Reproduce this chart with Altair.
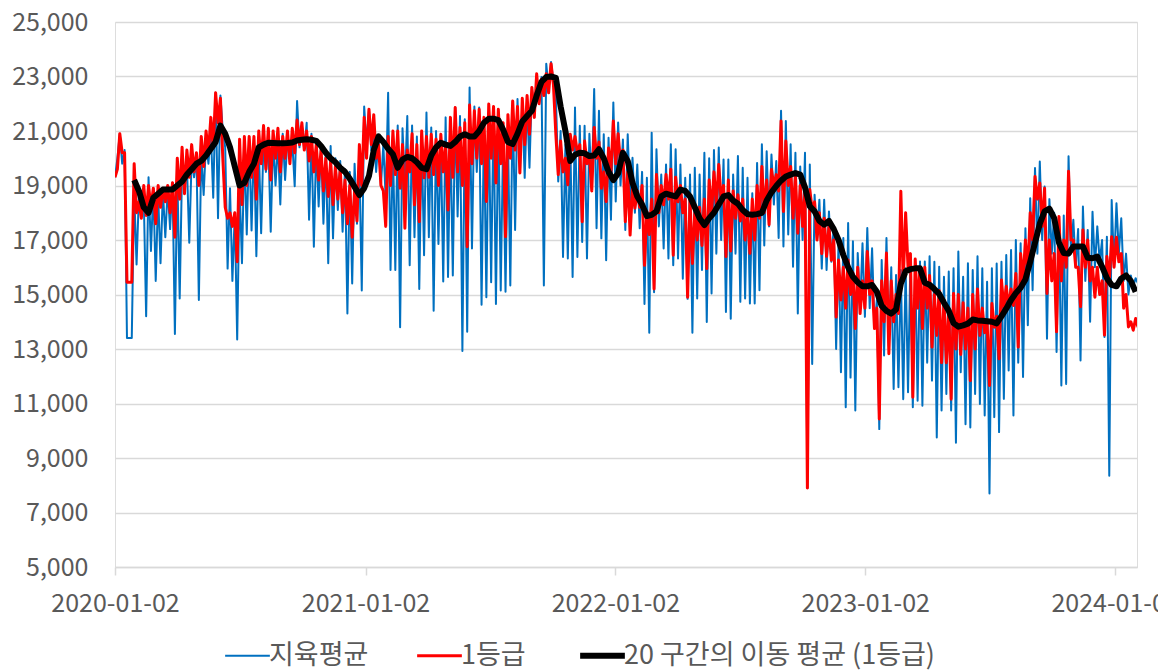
import altair as alt
import pandas as pd

# ---------------- data (weekly readings: a high and a low point per week) ----------------
first_day = "2020-01-02"
series_names = ["지육평균", "1등급", "20 구간의 이동 평균 (1등급)"]
y_ticks = [5000, 7000, 9000, 11000, 13000, 15000, 17000, 19000, 21000, 23000, 25000]
x_ticks = ["2020-01-02", "2021-01-02", "2022-01-02", "2023-01-02", "2024-01-02"]
x_domain = ["2020-01-02", "2024-02-03"]

blue_hi = [
    19300, 20900, 20300, 13400, 18800, 18700, 18600, 19300, 18900, 18700,
    18800, 18900, 19100, 19500, 19700, 19800, 20000, 20100, 20200, 20600,
    21000, 22400, 22300, 20400, 18900, 18000, 19000, 20400, 20700, 20700,
    20500, 20700, 20600, 20700, 20600, 20900, 20700, 20600, 22100, 21200,
    21300, 20900, 20600, 20500, 20300, 20450, 20000, 19900, 19600, 19500,
    19800, 19800, 21900, 21800, 21000, 20800, 20500, 22400, 20500, 21200,
    21100, 21550, 21200, 20800, 20900, 21680, 21130, 21000, 20700, 21500,
    21000, 21860, 21550, 21430, 22600, 21900, 21860, 21250, 21680, 21800,
    21620, 20750, 20940, 22100, 22170, 21930, 22100, 22600, 22850, 22980,
    23470, 23530, 22360, 21000, 20500, 20880, 21860, 21190, 21190, 20900,
    22540, 21740, 20880, 20750, 22050, 21310, 20690, 20880, 20020, 19770,
    19500, 19280, 20940, 20330, 19400, 19770, 20510, 20330, 19770, 19280,
    19400, 19650, 19400, 20200, 20000, 20300, 20390, 19950, 19950, 19400,
    20080, 19650, 19280, 18720, 19830, 20510, 20260, 20140, 19900, 21740,
    21370, 20510, 20200, 19700, 20200, 19770, 18660, 18480, 18480, 18050,
    17500, 16950, 17070, 17620, 16950, 16520, 16880, 17440, 16700, 14800,
    16270, 17070, 16000, 15720, 15900, 15960, 16270, 16090, 16210, 16210,
    16400, 16200, 16020, 15650, 15840, 15960, 16580, 15650, 16150, 15900,
    16400, 15960, 15470, 15960, 16140, 16200, 16450, 16630, 17000, 16880,
    17430, 18530, 19640, 19880, 18960, 18500, 18000, 17800, 17900, 20070,
    17740, 17400, 18230, 17370, 18040, 17500, 17000, 17120, 18470, 18350,
    17800, 16500, 15700, 15600,
]
blue_lo = [
    20000, 19800, 13400, 13400, 16100, 18200, 14200, 16600, 15500, 16150,
    17100, 17400, 13550, 14850, 18800, 16900, 19300, 14800, 18650, 19800,
    18550, 17800, 21000, 15950, 15500, 13350, 16150, 17200, 17350, 16400,
    17250, 19500, 17300, 19000, 18300, 19200, 20000, 18970, 20400, 20300,
    17740, 16750, 18230, 17600, 16150, 17060, 18100, 17300, 14300, 15400,
    17600, 15150, 20500, 20300, 19500, 19000, 18500, 15900, 15900, 13800,
    19000, 16070, 17100, 15200, 16440, 17100, 14400, 16850, 15480, 15640,
    15700, 17860, 12930, 13630, 16690, 19500, 14620, 14900, 15450, 14650,
    15150, 15100, 15330, 17370, 19460, 19280, 19650, 21500, 22000, 15330,
    22500, 22800, 19150, 16380, 16320, 15640, 16380, 16930, 16320, 18900,
    17430, 17060, 16260, 17740, 18410, 19000, 17370, 18400, 18000, 17430,
    14650, 13600, 15080, 17500, 16690, 16320, 16070, 16320, 15580, 14840,
    13600, 14850, 15900, 13990, 15040, 16500, 17000, 14360, 14110, 16500,
    14730, 14850, 14670, 14670, 15160, 16800, 17500, 18300, 17070, 16760,
    17200, 16020, 14300, 17000, 7900, 12450, 17000, 15950, 15900, 16200,
    13000, 12150, 10860, 11950, 10740, 14500, 14180, 14500, 13800, 10060,
    12760, 13100, 11530, 11600, 11160, 11410, 10860, 11100, 10920, 12500,
    11840, 9750, 10740, 11350, 10740, 9560, 12150, 10240, 10120, 11350,
    10980, 10560, 7700, 10500, 9950, 11170, 12210, 10560, 12500, 11970,
    13870, 15160, 16500, 17000, 13380, 16500, 12890, 11660, 11720, 16500,
    16000, 12580, 15500, 14000, 16000, 16200, 13440, 8350, 16000, 16500,
    15500, 15000, 15300, 15400,
]
red_hi = [
    19300, 20900, 20200, 15450, 19800, 18400, 19000, 19000, 18900, 19000,
    18900, 19000, 19100, 20000, 20400, 20300, 20500, 20200, 20800, 21000,
    21500, 22400, 22200, 18200, 18000, 18000, 20700, 20800, 20800, 20800,
    21000, 21200, 21100, 21000, 21100, 20800, 21000, 21100, 21400, 21300,
    21000, 20800, 20500, 20300, 20000, 19900, 19700, 19600, 19200, 19000,
    18800, 20500, 21500, 21800, 21600, 20500, 18800, 20800, 21000, 21000,
    20500, 20300, 20900, 20500, 21000, 20800, 20880, 20700, 20880, 20500,
    21500, 21860, 21130, 21300, 21950, 21740, 21800, 21500, 21990, 21900,
    21800, 21300, 21600, 22100, 21900, 22200, 22300, 22600, 23100, 22900,
    23100, 23470, 20880, 20630, 20000, 20880, 20800, 20500, 20630, 20140,
    21130, 20600, 19500, 20380, 21370, 20900, 20300, 19500, 18900, 18800,
    19000, 18040, 18500, 19400, 19000, 19400, 19600, 19300, 19000, 18500,
    18500, 18000, 18200, 18500, 19200, 19500, 19770, 19000, 19200, 18800,
    18660, 18500, 18000, 18500, 19000, 19700, 19200, 19590, 19400, 21370,
    20630, 19700, 19400, 19000, 18800, 18850, 18400, 18000, 17800, 17500,
    17000, 16270, 16000, 16270, 15800, 16000, 15500, 16580, 15500, 14500,
    15500, 16520, 15500, 15000, 18790, 18000, 16500, 16300, 16000, 16000,
    15700, 15000, 15150, 14800, 14500, 15040, 15000, 14700, 14500, 15000,
    15200, 14500, 14000, 14670, 14200, 15530, 15300, 15200, 15770, 16500,
    17000, 18000, 19330, 19090, 18900, 17000, 16500, 17860, 17000, 19520,
    17000, 16000, 17370, 17000, 16000, 16000, 15500, 16390, 17120, 17100,
    16500, 15000, 14000, 14120,
]
red_lo = [
    19600, 20200, 15450, 15450, 18000, 17800, 17900, 18200, 17600, 18200,
    18400, 18000, 17100, 18500, 18700, 19300, 19500, 19000, 19700, 20200,
    20400, 21300, 20000, 17800, 17500, 16200, 18300, 19000, 19300, 18500,
    19800, 19600, 19200, 20000, 19500, 20000, 19800, 20200, 20500, 20300,
    19900, 19500, 19200, 18800, 18600, 18300, 18500, 18000, 17600, 17100,
    17700, 19000, 20000, 20500, 20000, 19000, 17500, 19000, 19400, 18900,
    17430, 19500, 18290, 17670, 19280, 19300, 19400, 19000, 19500, 18100,
    19300, 19500, 19000, 16750, 19800, 20000, 19800, 18410, 20000, 19090,
    19800, 17120, 20000, 20300, 19460, 20500, 20880, 21500, 22000, 22300,
    22400, 22700, 19400, 19500, 19030, 20300, 20200, 17670, 19800, 18800,
    20000, 18900, 18410, 19500, 19800, 19800, 17670, 17180, 18170, 18200,
    16070, 17200, 15200, 18000, 18290, 18500, 16440, 18400, 18000, 14900,
    16140, 17000, 16800, 15950, 18000, 18300, 18500, 16390, 16600, 17800,
    17700, 17000, 16510, 17000, 17800, 18000, 17560, 18970, 18800, 18050,
    19000, 17800, 17250, 17500, 7900, 18100, 17000, 16500, 16400, 16260,
    14170, 14800, 14500, 15000, 13750, 14300, 14500, 15000, 13750, 10430,
    14000, 12830, 14000, 14300, 15500, 16000, 11230, 14500, 13750, 14500,
    13070, 13500, 12500, 12500, 11160, 13000, 12800, 13000, 11840, 13000,
    13500, 13600, 11660, 13800, 12640, 14500, 14540, 14600, 13070, 15500,
    15770, 17000, 18500, 17500, 15040, 15500, 13630, 15500, 16000, 17000,
    16000, 14550, 16000, 15500, 14900, 15000, 13510, 15500, 16000, 16200,
    14500, 13810, 13690, 13800,
]
ma_first_week = 4
ma_values = [
    19200, 18800, 18200, 18000, 18550, 18700,
    18850, 18850, 18850, 19000, 19150, 19400, 19600, 19800, 19900, 20100,
    20350, 20600, 21200, 20900, 20400, 19700, 19000, 19100, 19500, 19800,
    20400, 20500, 20570, 20560, 20550, 20550, 20560, 20580, 20650, 20680,
    20700, 20680, 20640, 20450, 20200, 20000, 19850, 19650, 19500, 19250,
    18950, 18650, 18900, 19350, 20300, 20800, 20600, 20350, 20150, 19650,
    19950, 20050, 20000, 19850, 19650, 19600, 20100, 20400, 20570, 20500,
    20450, 20600, 20800, 20880, 20800, 20800, 21000, 21300, 21450, 21450,
    21400, 21050, 20600, 20520, 20900, 21350, 21550, 21740, 22300, 22800,
    22980, 23000, 22950, 21900, 21000, 19900, 20130, 20200, 20180, 20080,
    20100, 20330, 20000, 19500, 19200, 19450, 20200, 19900, 19100, 18600,
    18300, 17880, 17920, 18050, 18600, 18700, 18650, 18600, 18850, 18800,
    18600, 18200, 17800, 17550, 17800, 18000, 18300, 18600, 18650, 18450,
    18330, 18100, 17950, 17930, 17950, 18000, 18450, 18750, 18980, 19180,
    19330, 19400, 19460, 19400, 18930, 18240, 18050, 17700, 17560, 17700,
    17400, 17000, 16450, 16000, 15650, 15450, 15300, 15300, 15350, 15100,
    14580, 14400, 14300, 14450, 15400, 15850, 15930, 15960, 15960, 15430,
    15360, 15200, 15020, 14700, 14400, 13950, 13820, 13870, 13930, 14080,
    14050, 14040, 14020, 14000, 13940, 14200, 14480, 14800, 15050, 15250,
    15550, 16200, 16900, 17600, 18050, 18150, 17800, 16900, 16520, 16500,
    16760, 16760, 16760, 16350, 16330, 16390, 16020, 15600, 15350, 15300,
    15590, 15700, 15500, 15100,
]
line_colors = ["#0070C0", "#FF0000", "#000000"]
line_widths = [2, 3, 6]

# ---------------- table building ----------------
base = pd.Timestamp(first_day)


def weekly_rows(name, hi, lo):
    rows = []
    for w, (h, l) in enumerate(zip(hi, lo)):
        t = base + pd.Timedelta(days=7 * w)
        rows.append({"date": t.strftime("%Y-%m-%dT%H:%M:%S"), "value": h, "series": name})
        rows.append({"date": (t + pd.Timedelta(hours=84)).strftime("%Y-%m-%dT%H:%M:%S"),
                     "value": l, "series": name})
    return pd.DataFrame(rows)


df_blue = weekly_rows(series_names[0], blue_hi, blue_lo)
df_red = weekly_rows(series_names[1], red_hi, red_lo)
df_ma = pd.DataFrame({
    "date": [(base + pd.Timedelta(days=7 * (ma_first_week + i))).strftime("%Y-%m-%dT%H:%M:%S")
             for i in range(len(ma_values))],
    "value": ma_values,
    "series": series_names[2],
})


def dt(s):
    y, m, d = (int(p) for p in s.split("-"))
    return alt.DateTime(year=y, month=m, date=d)


FONT = "Noto Sans CJK KR"
TXT = "#595959"
GRID = "#D9D9D9"

x_enc = alt.X(
    "date:T",
    scale=alt.Scale(domain=[dt(x_domain[0]), dt(x_domain[1])]),
    axis=alt.Axis(
        values=[dt(s) for s in x_ticks], format="%Y-%m-%d", title=None, grid=False,
        labelFont=FONT, labelFontSize=25, labelColor=TXT, labelPadding=16,
        ticks=True, tickSize=8, tickColor=GRID, tickWidth=1.5,
        domain=True, domainColor=GRID, domainWidth=1.5, labelOverlap=False,
        labelFlush=False,
    ),
)
y_enc = alt.Y(
    "value:Q",
    scale=alt.Scale(domain=[y_ticks[0], y_ticks[-1]], nice=False, zero=False),
    axis=alt.Axis(
        values=y_ticks, format=",.0f", title=None, grid=True, gridColor=GRID, gridWidth=1.5,
        labelFont=FONT, labelFontSize=25, labelColor=TXT, ticks=False, tickSize=0,
        labelPadding=27, domain=False,
    ),
)

# per-entry legend line width, looked up from the same lists
width_expr = (
    f"datum.value == '{series_names[0]}' ? {line_widths[0]} : "
    f"(datum.value == '{series_names[1]}' ? {line_widths[1]} : {line_widths[2]})"
)

legend = alt.Legend(
    orient="none", legendX=119, legendY=620, direction="horizontal", title=None,
    symbolType="stroke", symbolSize=2000, labelFont=FONT, labelFontSize=27,
    labelColor=TXT, columnPadding=42, labelOffset=8, padding=0, labelLimit=500,
    symbolStrokeWidth=alt.ExprRef(expr=width_expr),
)
color_enc = alt.Color(
    "series:N",
    scale=alt.Scale(domain=series_names, range=line_colors),
    legend=legend,
)


def layer(df, width):
    return alt.Chart(df).mark_line(clip=True, strokeJoin="round", strokeWidth=width).encode(
        x=x_enc, y=y_enc, color=color_enc
    )


chart = alt.layer(
    layer(df_blue, line_widths[0]),
    layer(df_red, line_widths[1]),
    layer(df_ma, line_widths[2]),
).properties(
    width=1022,
    height=545,
    padding={"left": 107, "top": 14, "right": 21, "bottom": 106},
    autosize=alt.AutoSizeParams(type="none"),
).configure_view(stroke=None).configure(background="white")

chart.save("out.html", embed_options={"renderer": "svg", "actions": False})
